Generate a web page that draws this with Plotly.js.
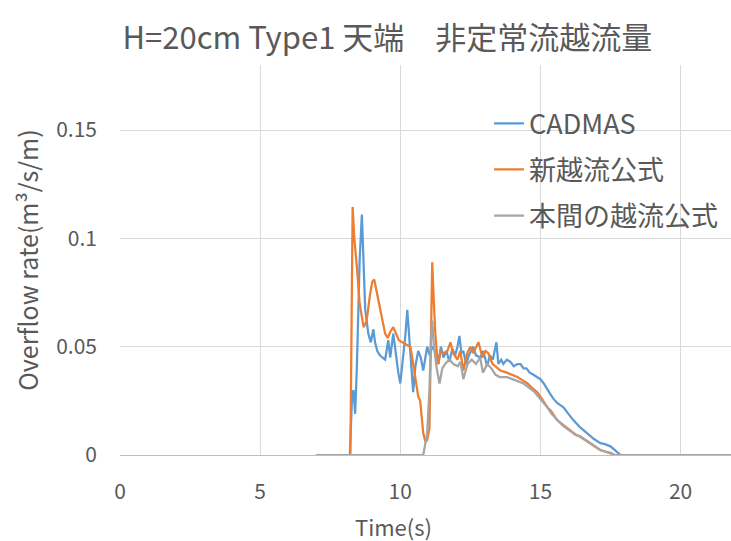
<!DOCTYPE html>
<html>
<head>
<meta charset="utf-8">
<script src="https://cdn.plot.ly/plotly-3.0.1.min.js"></script>
<style>html,body{margin:0;padding:0;background:#fff;}#chart{width:731px;height:541px;}</style>
</head>
<body>
<div id="chart"></div>
<script>
const chartTitle = "H=20cm Type1 天端\u3000非定常流越流量";
const xTitle = "Time(s)";
const yTitle = "Overflow rate(m\u00b3/s/m)";
const seriesNames = ["CADMAS", "新越流公式", "本間の越流公式"];

const cadmasT = [7, 8.2, 8.28, 8.33, 8.39, 8.45, 8.55, 8.63, 8.7, 8.75, 8.86, 8.95, 9.04, 9.1, 9.18, 9.27, 9.36, 9.46, 9.57, 9.64, 9.75, 9.85, 9.93, 10.0, 10.11, 10.18, 10.25, 10.36, 10.46, 10.54, 10.64, 10.73, 10.82, 10.96, 11.05, 11.14, 11.25, 11.36, 11.45, 11.54, 11.65, 11.75, 11.86, 11.96, 12.04, 12.11, 12.18, 12.25, 12.35, 12.45, 12.6, 12.7, 12.86, 12.96, 13.1, 13.2, 13.3, 13.43, 13.5, 13.6, 13.68, 13.8, 13.93, 14.05, 14.18, 14.29, 14.4, 14.5, 14.62, 14.75, 14.88, 15.0, 15.12, 15.25, 15.36, 15.46, 15.6, 15.71, 15.82, 16.0, 16.18, 16.4, 16.68, 16.9, 17.14, 17.3, 17.5, 17.75, 17.86, 21.8];
const cadmasQ = [0, 0, 0.027, 0.030, 0.019, 0.040, 0.090, 0.111, 0.085, 0.067, 0.056, 0.052, 0.058, 0.052, 0.048, 0.046, 0.045, 0.044, 0.053, 0.045, 0.056, 0.045, 0.038, 0.033, 0.045, 0.055, 0.067, 0.047, 0.029, 0.041, 0.048, 0.045, 0.039, 0.050, 0.046, 0.050, 0.048, 0.042, 0.050, 0.045, 0.048, 0.043, 0.049, 0.046, 0.050, 0.055, 0.047, 0.048, 0.042, 0.046, 0.050, 0.046, 0.045, 0.048, 0.041, 0.046, 0.044, 0.052, 0.042, 0.044, 0.042, 0.044, 0.043, 0.041, 0.042, 0.042, 0.040, 0.040, 0.038, 0.037, 0.036, 0.035, 0.033, 0.030, 0.028, 0.026, 0.024, 0.023, 0.022, 0.019, 0.016, 0.013, 0.010, 0.0075, 0.0055, 0.005, 0.004, 0.001, 0, 0];

const newT = [7, 8.22, 8.3, 8.36, 8.45, 8.55, 8.69, 8.8, 8.92, 9.0, 9.07, 9.15, 9.29, 9.38, 9.46, 9.55, 9.65, 9.75, 9.85, 9.95, 10.07, 10.2, 10.36, 10.45, 10.54, 10.64, 10.71, 10.82, 10.9, 10.96, 11.04, 11.1, 11.14, 11.2, 11.25, 11.32, 11.36, 11.43, 11.54, 11.68, 11.79, 11.89, 12.04, 12.14, 12.25, 12.39, 12.5, 12.6, 12.79, 12.93, 13.04, 13.14, 13.29, 13.39, 13.57, 13.8, 14.0, 14.18, 14.3, 14.54, 14.7, 14.89, 15.05, 15.25, 15.4, 15.6, 15.8, 16.07, 16.25, 16.43, 16.6, 16.79, 17.0, 17.14, 17.35, 17.5, 17.65, 21.8];
const newQ = [0, 0, 0.1145, 0.100, 0.087, 0.070, 0.059, 0.062, 0.074, 0.080, 0.081, 0.076, 0.067, 0.060, 0.056, 0.054, 0.057, 0.059, 0.056, 0.053, 0.052, 0.051, 0.050, 0.043, 0.035, 0.027, 0.025, 0.010, 0.006, 0.007, 0.012, 0.060, 0.089, 0.070, 0.056, 0.045, 0.042, 0.048, 0.047, 0.048, 0.052, 0.047, 0.044, 0.048, 0.039, 0.047, 0.050, 0.047, 0.052, 0.045, 0.048, 0.047, 0.042, 0.041, 0.039, 0.038, 0.037, 0.036, 0.035, 0.033, 0.031, 0.029, 0.026, 0.022, 0.020, 0.016, 0.014, 0.0115, 0.0095, 0.0085, 0.007, 0.0055, 0.0035, 0.0023, 0.0015, 0.001, 0, 0];

const hommaT = [7, 10.82, 10.96, 11.04, 11.1, 11.14, 11.2, 11.3, 11.4, 11.5, 11.6, 11.75, 11.9, 12.05, 12.15, 12.25, 12.4, 12.55, 12.7, 12.85, 12.95, 13.1, 13.25, 13.4, 13.55, 13.8, 14.0, 14.2, 14.4, 14.6, 14.8, 15.05, 15.25, 15.4, 15.6, 15.8, 16.07, 16.25, 16.43, 16.6, 16.79, 17.0, 17.14, 17.35, 17.5, 17.65, 21.8];
const hommaQ = [0, 0, 0.010, 0.030, 0.055, 0.062, 0.050, 0.040, 0.033, 0.040, 0.042, 0.044, 0.042, 0.041, 0.043, 0.035, 0.042, 0.044, 0.042, 0.045, 0.038, 0.042, 0.040, 0.037, 0.036, 0.036, 0.035, 0.034, 0.033, 0.031, 0.029, 0.025, 0.022, 0.019, 0.016, 0.0135, 0.011, 0.0093, 0.0083, 0.0068, 0.0053, 0.0033, 0.0022, 0.0014, 0.0008, 0, 0];

const xTickVals = [0, 5, 10, 15, 20];
const yTickVals = [0, 0.05, 0.1, 0.15];
const yTickText = ["0", "0.05", "0.1", "0.15"];

const colors = ["#5B9BD5", "#ED7D31", "#A5A5A5"];
const font = "'Noto Sans CJK JP', 'Noto Sans', sans-serif";
const textColor = "#595959";

const traces = [
  {x: cadmasT, y: cadmasQ, name: seriesNames[0], legendgroup: "a"},
  {x: newT, y: newQ, name: seriesNames[1], legendgroup: "b"},
  {x: hommaT, y: hommaQ, name: seriesNames[2], legendgroup: "c"}
].map((t, i) => Object.assign(t, {type: "scatter", mode: "lines", line: {color: colors[i], width: 2.25}}));

const layout = {
  width: 731, height: 541,
  margin: {l: 120, r: 0, t: 65, b: 86},
  paper_bgcolor: "#fff", plot_bgcolor: "#fff",
  font: {family: font, color: textColor},
  title: {text: chartTitle, font: {size: 31, color: textColor, family: font}, x: 0.53, xref: "container", xanchor: "center", y: 0.93, yref: "container", yanchor: "middle"},
  xaxis: {
    range: [0, 21.8], tickvals: xTickVals, showgrid: true, gridcolor: "#D9D9D9", gridwidth: 1,
    zeroline: false, showline: false, ticks: "", ticklabelstandoff: 22,
    tickfont: {size: 21, color: textColor}
  },
  yaxis: {
    range: [0, 0.18], tickvals: yTickVals, ticktext: yTickText, showgrid: true, gridcolor: "#D9D9D9", gridwidth: 1,
    zeroline: true, zerolinecolor: "#BFBFBF", zerolinewidth: 1, showline: false, ticks: "", ticklabelstandoff: 22,
    tickfont: {size: 21, color: textColor},
    title: {text: yTitle, font: {size: 25, color: textColor}, standoff: 10}
  },
  annotations: [
    {text: xTitle, xref: "paper", yref: "paper", x: 0.447, y: -0.183, xanchor: "center", yanchor: "middle", showarrow: false, font: {size: 22, color: textColor}}
  ],
  legend: {x: 0.604, y: 0.912, xanchor: "left", yanchor: "top", bgcolor: "rgba(255,255,255,0)", font: {size: 27, color: textColor}, traceorder: "grouped", tracegroupgap: 8, itemwidth: 30},
  showlegend: true
};

Plotly.newPlot("chart", traces, layout, {displayModeBar: false, staticPlot: true});
</script>
</body>
</html>
